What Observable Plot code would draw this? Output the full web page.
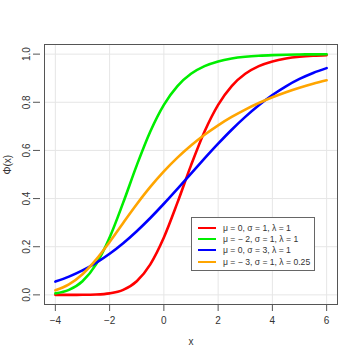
<!DOCTYPE html>
<html>
<head>
<meta charset="utf-8">
<script src="https://cdn.jsdelivr.net/npm/d3@7"></script>
<script src="https://cdn.jsdelivr.net/npm/@observablehq/plot@0.6"></script>
<style>
  html, body { margin: 0; padding: 0; background: #fff; }
  #wrap { position: relative; width: 360px; height: 360px; font-family: "Liberation Sans", Arial, sans-serif; }
  #legend { position: absolute; left: 191px; top: 217px; width: 124px; height: 54px; border: 1px solid #666; background: #fff; box-sizing: border-box; padding-top: 4px; }
  .row { display: flex; align-items: center; height: 11.3px; font-size: 8.6px; color: #333; white-space: nowrap; }
  .sw { width: 18px; height: 0; border-top: 2.5px solid; margin-left: 6px; margin-right: 7px; }
</style>
</head>
<body>
<div id="wrap"></div>
<script>
const xs = [-4,-3.5,-3,-2.5,-2,-1.5,-1,-0.5,0,0.5,1,1.5,2,2.5,3,3.5,4,4.5,5,5.5,6];
const seriesNames = ["μ = 0, σ = 1, λ = 1", "μ = − 2, σ = 1, λ = 1", "μ = 0, σ = 3, λ = 1", "μ = − 3, σ = 1, λ = 0.25"];
const seriesColors = ["#ff0000", "#00ee00", "#0000ff", "#ffa500"];
const redVals    = [0.0000,0.0000,0.0003,0.0015,0.0063,0.0209,0.0567,0.1269,0.2383,0.3830,0.5380,0.6788,0.7895,0.8675,0.9184,0.9503,0.9698,0.9817,0.9889,0.9933,0.9959];
const greenVals  = [0.0063,0.0209,0.0567,0.1269,0.2383,0.3830,0.5380,0.6788,0.7895,0.8675,0.9184,0.9503,0.9698,0.9817,0.9889,0.9933,0.9959,0.9975,0.9985,0.9991,0.9994];
const blueVals   = [0.0551,0.0756,0.1014,0.1330,0.1708,0.2147,0.2644,0.3194,0.3785,0.4405,0.5038,0.5667,0.6279,0.6859,0.7393,0.7876,0.8300,0.8664,0.8969,0.9218,0.9418];
const orangeVals = [0.0188,0.0436,0.0860,0.1464,0.2199,0.2990,0.3765,0.4483,0.5127,0.5699,0.6204,0.6650,0.7044,0.7391,0.7698,0.7968,0.8207,0.8418,0.8604,0.8768,0.8913];
const xTicks = [-4,-2,0,2,4,6];
const yTicks = [0,0.2,0.4,0.6,0.8,1.0];
const yTickLabels = ["0.0","0.2","0.4","0.6","0.8","1.0"];

const allVals = [redVals, greenVals, blueVals, orangeVals];
const data = [];
allVals.forEach((vals, i) => vals.forEach((v, j) => data.push({x: xs[j], y: v, s: seriesNames[i]})));

const plot = Plot.plot({
  width: 360, height: 360,
  marginLeft: 44, marginRight: 23, marginTop: 44, marginBottom: 56,
  style: {fontFamily: "Liberation Sans, Arial, sans-serif", fontSize: "10px", color: "#333", background: "#fff"},
  x: {domain: [-4.4, 6.4]},
  y: {domain: [-0.04, 1.04]},
  color: {domain: seriesNames, range: seriesColors},
  marks: [
    Plot.ruleX(xTicks, {stroke: "#e6e6e6", strokeWidth: 1, y1: -0.04, y2: 1.04}),
    Plot.ruleY(yTicks, {stroke: "#e6e6e6", strokeWidth: 1, x1: -4.4, x2: 6.4}),
    Plot.line(data, {x: "x", y: "y", z: "s", stroke: "s", strokeWidth: 2.6, curve: "monotone-x"}),
    Plot.frame({stroke: "#555", strokeWidth: 1}),
    Plot.axisX(xTicks, {tickSize: 7, tickPadding: 5, fontSize: 10, stroke: "#555", label: null}),
    Plot.axisY(yTicks, {tickSize: 7, tickPadding: 4, fontSize: 10, stroke: "#555", label: null, tickFormat: (d, i) => yTickLabels[i], tickRotate: -90, textAnchor: "middle", dx: -4}),
    Plot.text(["x"], {frameAnchor: "bottom", dy: 40, fontSize: 10, fill: "#333"}),
    Plot.text(["Φ(x)"], {frameAnchor: "left", dx: -37, rotate: -90, fontSize: 10, fill: "#333"})
  ]
});
const wrap = document.getElementById("wrap");
wrap.appendChild(plot);
const leg = document.createElement("div");
leg.id = "legend";
seriesNames.forEach((n, i) => {
  const r = document.createElement("div");
  r.className = "row";
  r.innerHTML = `<span class="sw" style="border-color:${seriesColors[i]}"></span><span>${n}</span>`;
  leg.appendChild(r);
});
wrap.appendChild(leg);
</script>
</body>
</html>
